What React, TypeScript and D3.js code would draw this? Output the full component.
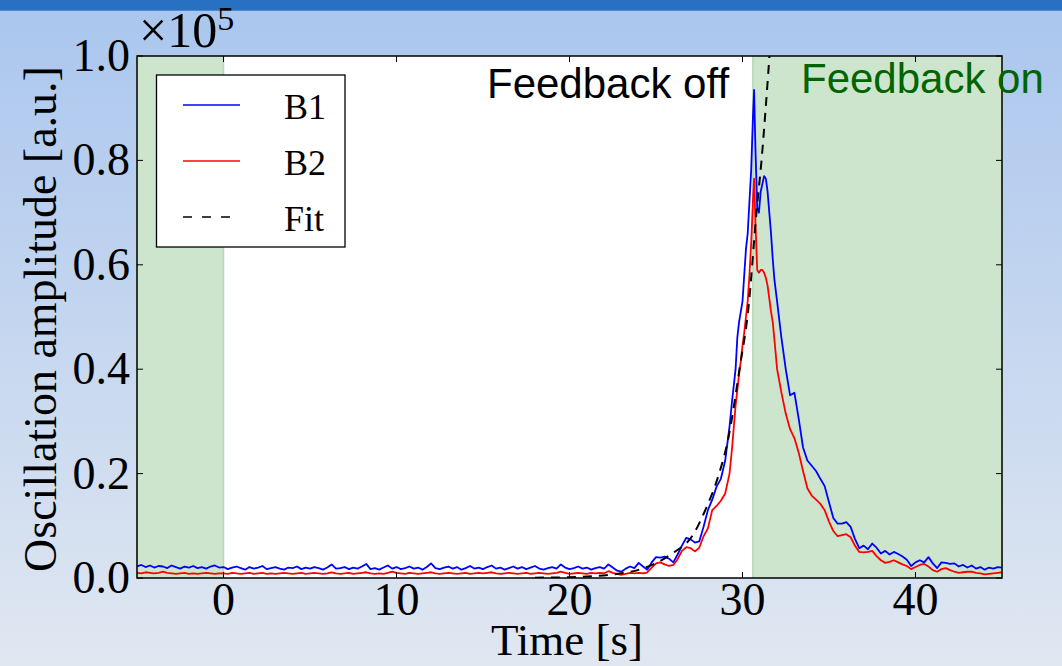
import React from 'react';
import * as d3 from 'd3';

// time axis [s]
const time = [
  -5, -4.75, -4.5, -4.25,
  -4, -3.75, -3.5, -3.25,
  -3, -2.75, -2.5, -2.25,
  -2, -1.75, -1.5, -1.25,
  -1, -0.75, -0.5, -0.25,
  0, 0.25, 0.5, 0.75,
  1, 1.25, 1.5, 1.75,
  2, 2.25, 2.5, 2.75,
  3, 3.25, 3.5, 3.75,
  4, 4.25, 4.5, 4.75,
  5, 5.25, 5.5, 5.75,
  6, 6.25, 6.5, 6.75,
  7, 7.25, 7.5, 7.75,
  8, 8.25, 8.5, 8.75,
  9, 9.25, 9.5, 9.75,
  10, 10.25, 10.5, 10.75,
  11, 11.25, 11.5, 11.75,
  12, 12.25, 12.5, 12.75,
  13, 13.25, 13.5, 13.75,
  14, 14.25, 14.5, 14.75,
  15, 15.25, 15.5, 15.75,
  16, 16.25, 16.5, 16.75,
  17, 17.25, 17.5, 17.75,
  18, 18.25, 18.5, 18.75,
  19, 19.25, 19.5, 19.75,
  20, 20.25, 20.5, 20.75,
  21, 21.25, 21.5, 21.75,
  22, 22.25, 22.5, 22.75,
  23, 23.25, 23.5, 23.75,
  24,
  24.25, 24.5, 24.75, 25,
  25.25, 25.5, 25.75, 26,
  26.25, 26.5, 26.75, 27,
  27.25, 27.5, 27.75, 28,
  28.25, 28.5, 28.75, 29,
  29.25,
  29.4, 29.5, 29.6, 29.7, 29.8, 29.9, 30, 30.1, 30.2, 30.3, 30.4, 30.5, 30.6, 30.67,
  30.75, 30.85, 30.95, 31.05, 31.15, 31.25, 31.35, 31.45, 31.55, 31.65, 31.75, 31.85, 32,
  32.25, 32.5, 32.75, 33,
  33.25, 33.5, 33.75, 34,
  34.25, 34.5, 34.75, 35,
  35.25, 35.5, 35.75, 36,
  36.25, 36.5, 36.75, 37,
  37.25, 37.5, 37.75, 38,
  38.25, 38.5, 38.75, 39,
  39.25, 39.5, 39.75, 40,
  40.25, 40.5, 40.75, 41,
  41.25, 41.5, 41.75, 42,
  42.25, 42.5, 42.75, 43,
  43.25, 43.5, 43.75, 44,
  44.25, 44.5, 44.75, 45,
];

// B1 oscillation amplitude (x1e5)
const b1 = [
  0.022, 0.025, 0.021, 0.024,
  0.020, 0.023, 0.022, 0.019,
  0.024, 0.021, 0.018, 0.022,
  0.020, 0.023, 0.019, 0.021,
  0.018, 0.022, 0.024, 0.020,
  0.021, 0.017, 0.020, 0.022,
  0.019, 0.016, 0.021, 0.018,
  0.020, 0.023, 0.017, 0.019,
  0.021, 0.018, 0.016, 0.020,
  0.019, 0.022, 0.017, 0.020,
  0.018, 0.021, 0.019, 0.016,
  0.020, 0.026, 0.018, 0.019,
  0.021, 0.017, 0.020, 0.018,
  0.022, 0.027, 0.017, 0.019,
  0.016, 0.020, 0.024, 0.018,
  0.021, 0.017, 0.019, 0.022,
  0.018, 0.020, 0.016, 0.021,
  0.028, 0.019, 0.017, 0.020,
  0.022, 0.018, 0.021, 0.016,
  0.019, 0.023, 0.018, 0.020,
  0.017, 0.021, 0.024, 0.018,
  0.020, 0.016, 0.019, 0.022,
  0.018, 0.021, 0.017, 0.020,
  0.023, 0.018, 0.016, 0.019,
  0.021, 0.018, 0.026, 0.020,
  0.017, 0.019, 0.022, 0.018,
  0.020, 0.016, 0.019, 0.021,
  0.018, 0.026, 0.020, 0.014,
  0.012, 0.018, 0.022, 0.019,
  0.029,
  0.022, 0.016, 0.030, 0.040,
  0.039, 0.041, 0.037, 0.030,
  0.045, 0.062, 0.077, 0.074,
  0.068, 0.070, 0.098, 0.130,
  0.150, 0.175, 0.190, 0.225,
  0.290,
  0.34, 0.37, 0.40, 0.46, 0.49, 0.51, 0.53, 0.58, 0.63, 0.66, 0.72, 0.78, 0.88, 0.935,
  0.82, 0.71, 0.70, 0.74, 0.755, 0.77, 0.765, 0.74, 0.70, 0.66, 0.61, 0.57, 0.53,
  0.46, 0.40, 0.35, 0.355,
  0.305, 0.25, 0.225, 0.215,
  0.205, 0.19, 0.176, 0.145,
  0.115, 0.104, 0.104, 0.107,
  0.098, 0.075, 0.057, 0.062,
  0.055, 0.066, 0.058, 0.047,
  0.052, 0.045, 0.050, 0.046,
  0.041, 0.035, 0.023, 0.030,
  0.034, 0.030, 0.040, 0.028,
  0.019, 0.030, 0.029, 0.027,
  0.028, 0.022, 0.025, 0.020,
  0.024, 0.018, 0.021, 0.016,
  0.020, 0.018, 0.021, 0.020,
];

// B2 oscillation amplitude (x1e5)
const b2 = [
  0.010, 0.009, 0.011, 0.010,
  0.009, 0.010, 0.012, 0.010,
  0.009, 0.008, 0.009, 0.010,
  0.008, 0.009, 0.008, 0.009,
  0.010, 0.009, 0.008, 0.009,
  0.009, 0.008, 0.010, 0.009,
  0.008, 0.009, 0.010, 0.008,
  0.009, 0.010, 0.008, 0.009,
  0.008, 0.009, 0.010, 0.009,
  0.008, 0.009, 0.010, 0.008,
  0.009, 0.010, 0.009, 0.008,
  0.009, 0.011, 0.009, 0.008,
  0.009, 0.010, 0.008, 0.009,
  0.010, 0.011, 0.009, 0.008,
  0.009, 0.008, 0.010, 0.012,
  0.010, 0.009, 0.008, 0.010,
  0.009, 0.008, 0.009, 0.010,
  0.011, 0.009, 0.008, 0.009,
  0.010, 0.009, 0.008, 0.009,
  0.010, 0.008, 0.009, 0.010,
  0.009, 0.010, 0.011, 0.009,
  0.008, 0.009, 0.010, 0.009,
  0.008, 0.009, 0.010, 0.008,
  0.009, 0.010, 0.009, 0.008,
  0.009, 0.010, 0.012, 0.010,
  0.008, 0.009, 0.010, 0.009,
  0.008, 0.010, 0.009, 0.010,
  0.009, 0.013, 0.010, 0.008,
  0.006, 0.008, 0.010, 0.009,
  0.010,
  0.009, 0.011, 0.020, 0.028,
  0.030, 0.026, 0.023, 0.025,
  0.036, 0.052, 0.059, 0.057,
  0.051, 0.058, 0.080, 0.095,
  0.130, 0.138, 0.148, 0.162,
  0.200,
  0.25, 0.29, 0.33, 0.36, 0.39, 0.415, 0.445, 0.47, 0.50, 0.53, 0.58, 0.64, 0.72, 0.765,
  0.68, 0.59, 0.585, 0.59, 0.59, 0.585, 0.575, 0.56, 0.535, 0.51, 0.49, 0.455, 0.40,
  0.355, 0.315, 0.285, 0.268,
  0.24, 0.205, 0.172, 0.158,
  0.150, 0.142, 0.13, 0.108,
  0.090, 0.080, 0.082, 0.084,
  0.078, 0.062, 0.050, 0.049,
  0.050, 0.052, 0.042, 0.034,
  0.029, 0.031, 0.034, 0.030,
  0.026, 0.023, 0.017, 0.021,
  0.025, 0.027, 0.022, 0.015,
  0.012, 0.017, 0.019, 0.015,
  0.012, 0.010, 0.011, 0.012,
  0.012, 0.010, 0.009, 0.007,
  0.008, 0.009, 0.010, 0.011,
];

// exponential fit
const fitTime = [18, 20, 22.3, 24.3, 25.8, 27.2, 27.9, 28.6, 29.2, 29.85, 30.33, 30.82, 31.1, 31.36, 31.6];
const fitValues = [0.0006, 0.0016, 0.006, 0.019, 0.044, 0.086, 0.134, 0.195, 0.271, 0.405, 0.513, 0.705, 0.8, 0.909, 1.02];

// feedback-on intervals
const feedbackOnSpans: [number, number][] = [[-5, 0], [30.6, 45]];

const xTicks = [0, 10, 20, 30, 40];
const yTicks = [0, 0.2, 0.4, 0.6, 0.8, 1.0];

const seriesNames = ['B1', 'B2', 'Fit'];

export default function App() {
  const W = 1062;
  const H = 666;
  const L = 137, R = 1002, T = 56, B = 578;
  const x = d3.scaleLinear().domain([-5, 45]).range([L, R]);
  const y = d3.scaleLinear().domain([0, 1]).range([B, T]);

  const line = d3.line<number>().x((_, i) => x(time[i])).y((d) => y(d));
  const fitLine = d3
    .line<number>()
    .x((_, i) => x(fitTime[i]))
    .y((d) => y(d))
    .curve(d3.curveMonotoneX);

  const serif = '"Liberation Serif", "Times New Roman", serif';
  const sans = '"Liberation Sans", Arial, sans-serif';
  const tickLen = 6;

  return (
    <svg
      width={W}
      height={H}
      style={{ position: 'absolute', left: 0, top: 0, display: 'block' }}
    >
      <defs>
        <linearGradient id="bg" x1="0" y1="0" x2="0" y2="1">
          <stop offset="0" stopColor="#aac6ee" />
          <stop offset="1" stopColor="#e0e7f1" />
        </linearGradient>
        <clipPath id="plotclip">
          <rect x={L} y={T} width={R - L} height={B - T} />
        </clipPath>
      </defs>
      <rect x={0} y={0} width={W} height={H} fill="url(#bg)" />
      <rect x={0} y={0} width={W} height={11} fill="#2870c2" />
      <rect x={0} y={10} width={W} height={1} fill="#4f8ad0" />

      {/* plot background */}
      <rect x={L} y={T} width={R - L} height={B - T} fill="#ffffff" />
      {feedbackOnSpans.map(([a, b], i) => (
        <g key={i}>
          <rect x={x(a)} y={T} width={x(b) - x(a)} height={B - T} fill="#cde5cd" />
          <line x1={x(a)} x2={x(a)} y1={T} y2={B} stroke="#b3d8b3" strokeWidth={1.5} />
          <line x1={x(b)} x2={x(b)} y1={T} y2={B} stroke="#b3d8b3" strokeWidth={1.5} />
        </g>
      ))}

      <g clipPath="url(#plotclip)">
        <path d={line(b1) || ''} fill="none" stroke="#0000ff" strokeWidth={1.8} strokeLinejoin="round" />
        <path d={line(b2) || ''} fill="none" stroke="#ff0000" strokeWidth={1.8} strokeLinejoin="round" />
        <path
          d={fitLine(fitValues) || ''}
          fill="none"
          stroke="#000000"
          strokeWidth={2}
          strokeDasharray="9,7"
        />
      </g>

      {/* ticks */}
      {xTicks.map((t) => (
        <g key={'xt' + t}>
          <line x1={x(t)} x2={x(t)} y1={B} y2={B - tickLen} stroke="#000" strokeWidth={1} />
          <line x1={x(t)} x2={x(t)} y1={T} y2={T + tickLen} stroke="#000" strokeWidth={1} />
          <text x={x(t)} y={615} textAnchor="middle" fontFamily={serif} fontSize={46} fill="#000">
            {t}
          </text>
        </g>
      ))}
      {yTicks.map((t) => (
        <g key={'yt' + t}>
          <line x1={L} x2={L + tickLen} y1={y(t)} y2={y(t)} stroke="#000" strokeWidth={1} />
          <line x1={R} x2={R - tickLen} y1={y(t)} y2={y(t)} stroke="#000" strokeWidth={1} />
          <text x={130} y={y(t) + 15} textAnchor="end" fontFamily={serif} fontSize={46} fill="#000">
            {t.toFixed(1)}
          </text>
        </g>
      ))}

      {/* frame */}
      <rect x={L} y={T} width={R - L} height={B - T} fill="none" stroke="#000" strokeWidth={1.5} />

      {/* exponent */}
      <text x={139} y={47} fontFamily={serif} fontSize={50} fill="#000">
        ×10
        <tspan fontSize={34} dy={-17}>5</tspan>
      </text>

      {/* axis labels */}
      <text x={567} y={655} textAnchor="middle" fontFamily={serif} fontSize={45} fill="#000">
        Time [s]
      </text>
      <text
        transform={`translate(56, ${(T + B) / 2 + 2}) rotate(-90)`}
        textAnchor="middle"
        fontFamily={serif}
        fontSize={46}
        fill="#000"
      >
        Oscillation amplitude [a.u.]
      </text>

      {/* annotations */}
      <text x={487} y={98} fontFamily={sans} fontSize={42} fill="#000">
        Feedback off
      </text>
      <text x={801} y={93} fontFamily={sans} fontSize={42} fill="#006400">
        Feedback on
      </text>

      {/* legend */}
      <rect x={156.5} y={75} width={188.5} height={172} fill="#ffffff" stroke="#000" strokeWidth={1.3} />
      {seriesNames.map((name, i) => {
        const ly = 105 + i * 56;
        const color = i === 0 ? '#0000ff' : i === 1 ? '#ff0000' : '#000000';
        return (
          <g key={name}>
            <line
              x1={183}
              x2={240}
              y1={ly}
              y2={ly}
              stroke={color}
              strokeWidth={1.5}
              strokeDasharray={i === 2 ? '9,10' : undefined}
            />
            <text x={284} y={ly + 14} fontFamily={serif} fontSize={36} fill="#000">
              {name}
            </text>
          </g>
        );
      })}
    </svg>
  );
}
